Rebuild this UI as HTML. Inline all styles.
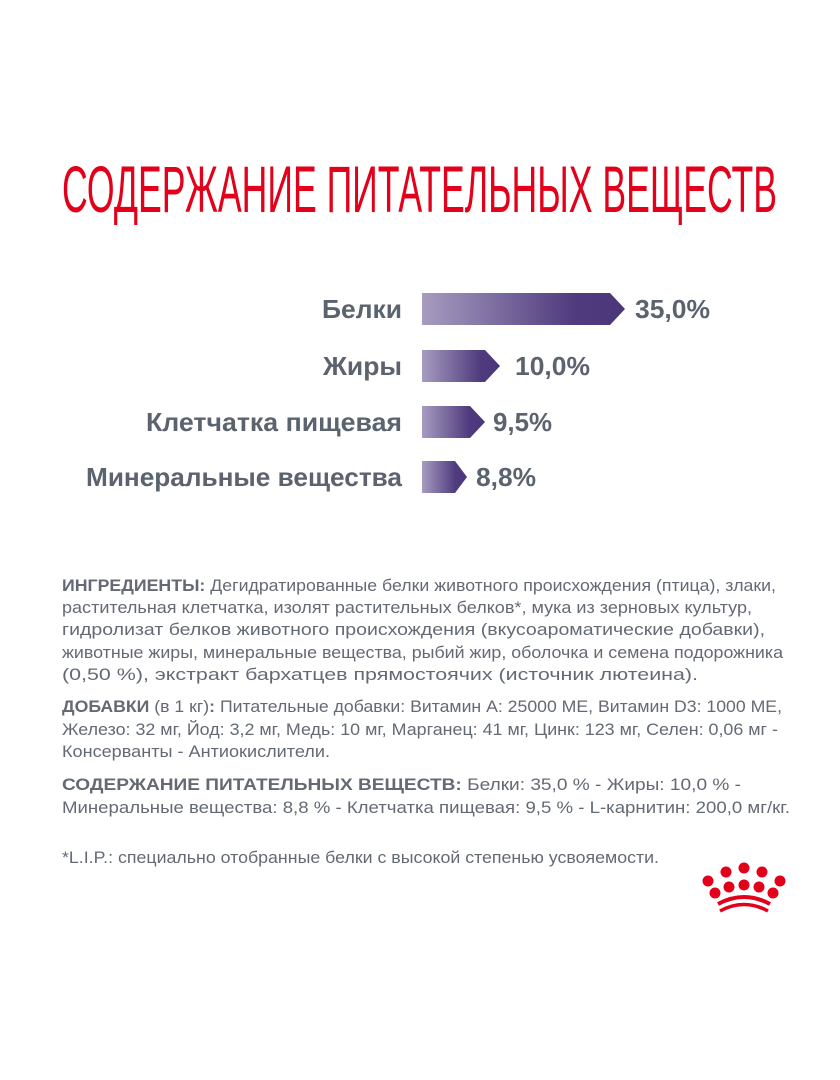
<!DOCTYPE html>
<html><head><meta charset="utf-8"><style>
html,body{margin:0;padding:0;background:#fff;width:840px;height:1080px;overflow:hidden}
svg{display:block}
.t{font-family:"Liberation Sans",sans-serif;fill:#646a73;font-size:16.5px}
.b{font-weight:bold}
.l{font-family:"Liberation Sans",sans-serif;font-weight:bold;fill:#5b636e;font-size:26px}
</style></head><body>
<svg width="840" height="1080" viewBox="0 0 840 1080">
<defs>
<linearGradient id="g" x1="0" x2="1" y1="0" y2="0">
<stop offset="0" stop-color="#a79cc0"/><stop offset="0.75" stop-color="#4f3b7e"/><stop offset="1" stop-color="#4a3679"/>
</linearGradient>
</defs>
<text x="62" y="212" textLength="715" lengthAdjust="spacingAndGlyphs" style="font-family:'Liberation Sans',sans-serif;font-size:66px;fill:#e2001a">СОДЕРЖАНИЕ ПИТАТЕЛЬНЫХ ВЕЩЕСТВ</text>

<polygon points="422,293 610,293 625,309 610,325 422,325" fill="url(#g)"/>
<polygon points="422,350 485,350 500,366 485,382 422,382" fill="url(#g)"/>
<polygon points="422,406 470,406 485,422 470,438 422,438" fill="url(#g)"/>
<polygon points="422,461 455,461 467,477 455,493 422,493" fill="url(#g)"/>

<text class="l" x="322" y="318" textLength="80" lengthAdjust="spacingAndGlyphs">Белки</text>
<text class="l" x="323" y="375" textLength="79" lengthAdjust="spacingAndGlyphs">Жиры</text>
<text class="l" x="146" y="431" textLength="256" lengthAdjust="spacingAndGlyphs">Клетчатка пищевая</text>
<text class="l" x="86" y="486" textLength="316" lengthAdjust="spacingAndGlyphs">Минеральные вещества</text>
<text class="l" x="635" y="318" textLength="75" lengthAdjust="spacingAndGlyphs">35,0%</text>
<text class="l" x="515" y="375" textLength="75" lengthAdjust="spacingAndGlyphs">10,0%</text>
<text class="l" x="493" y="431" textLength="59" lengthAdjust="spacingAndGlyphs">9,5%</text>
<text class="l" x="476" y="486" textLength="60" lengthAdjust="spacingAndGlyphs">8,8%</text>

<text class="t" x="62" y="591" textLength="714" lengthAdjust="spacingAndGlyphs"><tspan class="b">ИНГРЕДИЕНТЫ:</tspan> Дегидратированные белки животного происхождения (птица), злаки,</text>
<text class="t" x="62" y="613" textLength="690" lengthAdjust="spacingAndGlyphs">растительная клетчатка, изолят растительных белков*, мука из зерновых культур,</text>
<text class="t" x="62" y="635" textLength="703" lengthAdjust="spacingAndGlyphs">гидролизат белков животного происхождения (вкусоароматические добавки),</text>
<text class="t" x="62" y="658" textLength="721" lengthAdjust="spacingAndGlyphs">животные жиры, минеральные вещества, рыбий жир, оболочка и семена подорожника</text>
<text class="t" x="62" y="680" textLength="636" lengthAdjust="spacingAndGlyphs">(0,50 %), экстракт бархатцев прямостоячих (источник лютеина).</text>

<text class="t" x="62" y="712" textLength="720" lengthAdjust="spacingAndGlyphs"><tspan class="b">ДОБАВКИ</tspan> (в 1 кг)<tspan class="b">:</tspan> Питательные добавки: Витамин A: 25000 МЕ, Витамин D3: 1000 МЕ,</text>
<text class="t" x="62" y="735" textLength="716" lengthAdjust="spacingAndGlyphs">Железо: 32 мг, Йод: 3,2 мг, Медь: 10 мг, Марганец: 41 мг, Цинк: 123 мг, Селен: 0,06 мг -</text>
<text class="t" x="62" y="757" textLength="268" lengthAdjust="spacingAndGlyphs">Консерванты - Антиокислители.</text>

<text class="t" x="62" y="790" textLength="679" lengthAdjust="spacingAndGlyphs"><tspan class="b">СОДЕРЖАНИЕ ПИТАТЕЛЬНЫХ ВЕЩЕСТВ:</tspan> Белки: 35,0 % - Жиры: 10,0 % -</text>
<text class="t" x="62" y="813" textLength="728" lengthAdjust="spacingAndGlyphs">Минеральные вещества: 8,8 % - Клетчатка пищевая: 9,5 % - L-карнитин: 200,0 мг/кг.</text>

<text class="t" x="62" y="863" textLength="597" lengthAdjust="spacingAndGlyphs">*L.I.P.: специально отобранные белки с высокой степенью усвояемости.</text>

<g fill="#e2001a">
<circle cx="708" cy="881" r="5.5"/><circle cx="726" cy="872" r="5.5"/><circle cx="744" cy="868" r="5.5"/><circle cx="762" cy="872" r="5.5"/><circle cx="780" cy="881" r="5.5"/>
<circle cx="715" cy="893" r="5.5"/><circle cx="729" cy="887" r="5.5"/><circle cx="744" cy="885" r="5.5"/><circle cx="759" cy="887" r="5.5"/><circle cx="773" cy="893" r="5.5"/>
</g>
<path d="M718,904 Q744,890 770,904" stroke="#e2001a" stroke-width="4" fill="none"/>
<path d="M720,911 Q744,898 768,911" stroke="#e2001a" stroke-width="3.5" fill="none"/>
</svg>
</body></html>
